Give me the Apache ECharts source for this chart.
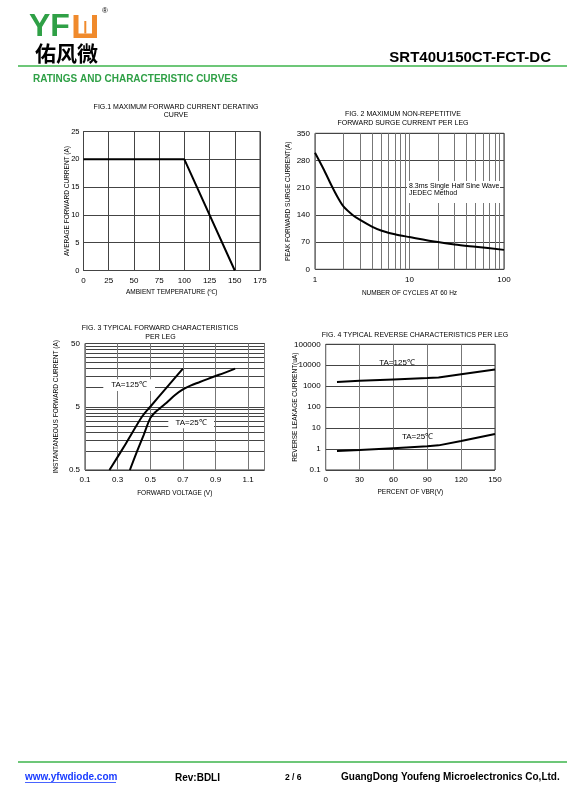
<!DOCTYPE html>
<html>
<head>
<meta charset="utf-8">
<title>SRT40U150CT-FCT-DC</title>
<script src="https://cdn.jsdelivr.net/npm/echarts@6/dist/echarts.min.js"></script>
<style>
    html, body { margin: 0; padding: 0; background: #fff; }
    #page { width: 567px; height: 806px; }
</style>
</head>
<body>
<div id="page"></div>
<script>
// ---- data ----
// FIG.1 derating
const fig1Temp = [0, 100, 150];
const fig1Current = [20, 20, 0];
// FIG.2 surge current
const fig2Cycles = [1, 1.25, 1.5, 1.75, 2, 2.5, 3, 4, 5, 7, 10, 20, 30, 50, 100];
const fig2Surge = [300, 255, 215, 184, 162, 140, 127, 110, 100, 90, 83, 70, 64, 58, 50];
// FIG.3 forward characteristics
const fig3V125 = [0.25, 0.35, 0.45, 0.5, 0.6, 0.7];
const fig3I125 = [0.5, 1.3, 3.5, 5, 10, 20];
const fig3V25 = [0.375, 0.42, 0.46, 0.5, 0.53, 0.57, 0.6, 0.65, 0.7, 0.75, 0.8, 0.85, 0.9, 0.95, 1.02];
const fig3I25 = [0.5, 1.0, 1.8, 3.3, 4.1, 5.0, 5.8, 7.6, 9.4, 10.9, 12.2, 13.7, 15.3, 17.0, 20];
// FIG.4 reverse characteristics
const fig4Pct = [10, 30, 60, 90, 100, 120, 150];
const fig4Leak125 = [1600, 1800, 2100, 2450, 2600, 3700, 6300];
const fig4Leak25 = [0.8, 0.9, 1.1, 1.35, 1.5, 2.4, 5.2];

// ticks / grid lines
const fig2XGrid = [1, 2, 3, 4, 5, 6, 7, 8, 9, 10, 20, 30, 40, 50, 60, 70, 80, 90, 100];
const fig2XLabels = [1, 10, 100];
const fig3XGrid = [0.1, 0.3, 0.5, 0.7, 0.9, 1.1, 1.2];
const fig3XLabels = [0.1, 0.3, 0.5, 0.7, 0.9, 1.1];
const fig3YGrid = [0.5, 1, 1.5, 2, 2.5, 3, 3.5, 4, 4.5, 5, 10, 15, 20, 25, 30, 35, 40, 45, 50];
const fig3YLabels = [0.5, 5, 50];
const fig4YGrid = [0.1, 1, 10, 100, 1000, 10000, 100000];

function zip(xs, ys) { return xs.map((x, i) => [x, ys[i]]); }

const FONT = '"Liberation Sans", Arial, sans-serif';
const GREEN = '#2fa046';
const tickFont = { fontFamily: FONT, fontSize: 8, color: '#000' };
const nameFont = { fontFamily: FONT, fontSize: 6.5, color: '#000' };
const darkLine = { color: '#444', width: 1 };
const greyLine = { color: '#777', width: 1 };

function txt(x, y, s, font, fill, align) {
    return {
        type: 'text', z: 20,
        style: {
            x: x, y: y, text: s, font: font, fill: fill || '#000',
            textAlign: align || 'left', align: align || 'left',
            textVerticalAlign: 'middle', verticalAlign: 'middle'
        }
    };
}
function ctxt(x, y, s, font) { return txt(x, y, s, font, '#000', 'center'); }
function rect(x, y, w, h, fill, z) {
    return { type: 'rect', z: z || 15, shape: { x: x, y: y, width: w, height: h }, style: { fill: fill } };
}
function hline(x1, x2, y, color, w) {
    return { type: 'line', z: 15, shape: { x1: x1, y1: y, x2: x2, y2: y }, style: { stroke: color, lineWidth: w } };
}
function axisName(text, gap) {
    return { name: text, nameLocation: 'middle', nameGap: gap, nameMoveOverlap: false, nameTextStyle: nameFont };
}

var chart = echarts.init(document.getElementById('page'));

var gridBase = { show: true, borderColor: '#333', borderWidth: 1, backgroundColor: 'transparent', containLabel: false };

var option = {
    animation: false,
    backgroundColor: '#fff',
    grid: [
        Object.assign({ left: 83.5, top: 131.5, width: 176.5, height: 139 }, gridBase),
        Object.assign({ left: 315, top: 133.3, width: 189, height: 136 }, gridBase),
        Object.assign({ left: 85, top: 343.5, width: 179.5, height: 126.5 }, gridBase),
        Object.assign({ left: 325.7, top: 344.3, width: 169.3, height: 125.7 }, gridBase)
    ],
    xAxis: [
        Object.assign({
            gridIndex: 0, type: 'value', min: 0, max: 175, interval: 25,
            axisLine: { show: false }, axisTick: { show: false },
            axisLabel: Object.assign({ margin: 6 }, tickFont),
            splitLine: { lineStyle: darkLine }
        }, axisName('AMBIENT TEMPERATURE (\u2103)', 18.5)),
        Object.assign({
            gridIndex: 1, type: 'log', logBase: 10, min: 1, max: 100,
            axisLine: { show: false },
            axisTick: { show: false, customValues: fig2XGrid },
            axisLabel: Object.assign({ margin: 6, customValues: fig2XLabels, formatter: v => String(v) }, tickFont),
            splitLine: { show: true, lineStyle: greyLine }
        }, axisName('NUMBER OF CYCLES AT 60 Hz', 20)),
        Object.assign({
            gridIndex: 2, type: 'value', min: 0.1, max: 1.2,
            axisLine: { show: false },
            axisTick: { show: false, customValues: fig3XGrid },
            axisLabel: Object.assign({ margin: 6, customValues: fig3XLabels, formatter: v => v.toFixed(1) }, tickFont),
            splitLine: { show: true, lineStyle: greyLine }
        }, axisName('FORWARD VOLTAGE (V)', 19.5)),
        Object.assign({
            gridIndex: 3, type: 'value', min: 0, max: 150, interval: 30,
            axisLine: { show: false }, axisTick: { show: false },
            axisLabel: Object.assign({ margin: 6 }, tickFont),
            splitLine: { lineStyle: greyLine }
        }, axisName('PERCENT OF VBR(V)', 18.5))
    ],
    yAxis: [
        Object.assign({
            gridIndex: 0, type: 'value', min: 0, max: 25, interval: 5,
            axisLine: { show: false }, axisTick: { show: false },
            axisLabel: Object.assign({ margin: 4 }, tickFont, { fontSize: 7.5 }),
            splitLine: { lineStyle: darkLine }
        }, axisName('AVERAGE FORWARD CURRENT (A)', 13)),
        Object.assign({
            gridIndex: 1, type: 'value', min: 0, max: 350, interval: 70,
            axisLine: { show: false }, axisTick: { show: false },
            axisLabel: Object.assign({ margin: 5 }, tickFont),
            splitLine: { lineStyle: darkLine }
        }, axisName('PEAK FORWARD SURGE CURRENT(A)', 23.5)),
        Object.assign({
            gridIndex: 2, type: 'log', logBase: 10, min: 0.5, max: 50,
            axisLine: { show: false },
            axisTick: { show: false, customValues: fig3YGrid },
            axisLabel: Object.assign({ margin: 5, customValues: fig3YLabels, formatter: v => String(v) }, tickFont),
            splitLine: { show: true, lineStyle: darkLine }
        }, axisName('INSTANTANEOUS FORWARD CURRENT (A)', 25.5)),
        Object.assign({
            gridIndex: 3, type: 'log', logBase: 10, min: 0.1, max: 100000,
            axisLine: { show: false },
            axisTick: { show: false, customValues: fig4YGrid },
            axisLabel: Object.assign({ margin: 5, customValues: fig4YGrid, formatter: v => String(v) }, tickFont),
            splitLine: { show: true, lineStyle: darkLine }
        }, axisName('REVERSE LEAKAGE CURRENT(uA)', 27))
    ],
    series: [
        {
            type: 'line', xAxisIndex: 0, yAxisIndex: 0, data: zip(fig1Temp, fig1Current),
            showSymbol: false, lineStyle: { color: '#000', width: 2 }, z: 5
        },
        {
            type: 'line', xAxisIndex: 1, yAxisIndex: 1, data: zip(fig2Cycles, fig2Surge),
            showSymbol: false, smooth: 0.3, lineStyle: { color: '#000', width: 2 }, z: 5
        },
        {
            type: 'line', xAxisIndex: 2, yAxisIndex: 2, data: zip(fig3V125, fig3I125),
            showSymbol: false, smooth: 0.3, lineStyle: { color: '#000', width: 2 }, z: 5
        },
        {
            type: 'line', xAxisIndex: 2, yAxisIndex: 2, data: zip(fig3V25, fig3I25),
            showSymbol: false, smooth: 0.3, lineStyle: { color: '#000', width: 2 }, z: 5
        },
        {
            type: 'line', xAxisIndex: 3, yAxisIndex: 3, data: zip(fig4Pct, fig4Leak125),
            showSymbol: false, lineStyle: { color: '#000', width: 2 }, z: 5
        },
        {
            type: 'line', xAxisIndex: 3, yAxisIndex: 3, data: zip(fig4Pct, fig4Leak25),
            showSymbol: false, lineStyle: { color: '#000', width: 2 }, z: 5
        }
    ],
    graphic: [
        // logo
        txt(29, 27, 'YF', 'bold 32px ' + FONT, GREEN),
        rect(73.5, 15, 23.5, 23, '#f08a2c'),
        rect(78.5, 15, 13.5, 18.5, '#fff', 16),
        rect(84.3, 21, 2, 12.5, '#f08a2c', 17),
        txt(102, 11, '\u00ae', '8px ' + FONT),
        txt(35, 53, '\u4f51\u98ce\u5fae', 'bold 21px "Noto Sans CJK SC"'),
        // header
        txt(551, 57.5, 'SRT40U150CT-FCT-DC', 'bold 15px ' + FONT, '#000', 'right'),
        hline(18, 567, 66, '#3cb44b', 1.5),
        txt(33, 79.5, 'RATINGS AND CHARACTERISTIC CURVES', 'bold 10px ' + FONT, GREEN),
        // figure titles
        ctxt(176, 107.3, 'FIG.1 MAXIMUM FORWARD CURRENT DERATING', '7px ' + FONT),
        ctxt(176, 115, 'CURVE', '7px ' + FONT),
        ctxt(403, 114.5, 'FIG. 2 MAXIMUM NON-REPETITIVE', '7px ' + FONT),
        ctxt(403, 123, 'FORWARD SURGE CURRENT PER LEG', '7px ' + FONT),
        ctxt(160, 328.3, 'FIG. 3 TYPICAL FORWARD CHARACTERISTICS', '7px ' + FONT),
        ctxt(160.5, 337, 'PER LEG', '7px ' + FONT),
        ctxt(415, 335.5, 'FIG. 4 TYPICAL REVERSE CHARACTERISTICS PER LEG', '7px ' + FONT),
        // fig 2 annotation
        rect(407, 181, 93, 22, '#fff'),
        txt(409, 186.5, '8.3ms Single Half Sine Wave', '7px ' + FONT),
        txt(409, 193.5, 'JEDEC Method', '7px ' + FONT),
        // fig 3 labels
        rect(103.3, 379.3, 51.7, 11.7, '#fff'),
        ctxt(129, 385.2, 'TA=125\u2103', '8px ' + FONT),
        rect(168.3, 417.3, 45.7, 11, '#fff'),
        ctxt(191, 423, 'TA=25\u2103', '8px ' + FONT),
        // fig 4 labels
        ctxt(397, 362.5, 'TA=125\u2103', '8px ' + FONT),
        ctxt(417.5, 437, 'TA=25\u2103', '8px ' + FONT),
        // footer
        hline(18, 567, 762, '#3cb44b', 1.5),
        txt(25, 777, 'www.yfwdiode.com', 'bold 10px ' + FONT, '#1a3cff'),
        hline(25, 116, 782.5, '#1a3cff', 0.8),
        txt(175, 778, 'Rev:BDLI', 'bold 10px ' + FONT),
        txt(285, 778, '2 / 6', 'bold 8.5px ' + FONT),
        txt(341, 777.5, 'GuangDong Youfeng Microelectronics Co,Ltd.', 'bold 10px ' + FONT)
    ]
};

chart.setOption(option);
</script>
</body>
</html>
